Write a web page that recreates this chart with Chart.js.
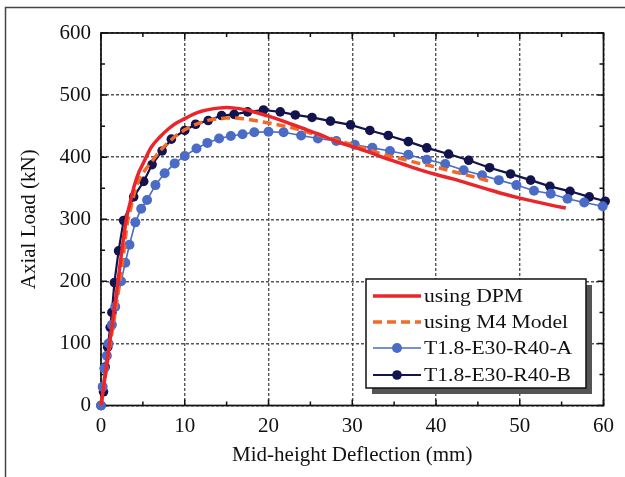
<!DOCTYPE html>
<html>
<head>
<meta charset="utf-8">
<script src="https://cdn.jsdelivr.net/npm/chart.js@4.4.1/dist/chart.umd.min.js"></script>
<style>
  body { margin: 0; background: #fff; }
  canvas { display: block; }
</style>
</head>
<body>
<canvas id="loadChart" width="625" height="477"></canvas>
<script>
// Axial load vs mid-height deflection
var xTicks = [0, 10, 20, 30, 40, 50, 60];
var yTicks = [0, 100, 200, 300, 400, 500, 600];
var seriesNames = ["using DPM", "using M4 Model", "T1.8-E30-R40-A", "T1.8-E30-R40-B"];

var dpmX = [0, 0.5, 1, 1.5, 2, 2.5, 3, 3.5, 4, 4.5, 5, 6, 7, 8, 9, 10, 11, 12, 13, 14, 15, 16, 17, 18, 19, 20, 22, 24, 26, 28, 30, 32, 34, 36, 38, 40, 42, 44, 46, 48, 50, 52, 54, 55.5];
var dpmY = [0, 48, 97, 147, 197, 250, 298, 328, 355, 375, 389, 416, 432, 445, 455, 462, 469, 474, 477, 479, 480, 479, 477, 474, 470, 466, 457, 447, 437, 426, 417, 408, 398, 389, 380, 372, 365, 357, 349, 341, 334, 328, 322, 318];

var m4X = [0, 0.5, 1.1, 1.7, 2.3, 2.8, 3.1, 3.6, 4.0, 4.5, 5.2, 6.0, 6.4, 7.1, 8.0, 9.0, 10, 11, 12, 13, 14, 15, 16, 17, 18, 20, 22, 24, 26, 28, 30, 32, 34, 36, 38, 40, 42, 44, 46.5];
var m4Y = [0, 45, 100, 150, 205, 255, 290, 320, 343, 362, 378, 392, 399, 411, 423, 435, 444, 451, 456, 460, 462, 463, 463, 462, 460, 455, 450, 443, 435, 428, 420, 412, 403, 397, 390, 384, 377, 370, 361];

var testAX = [0, 0.2, 0.4, 0.7, 0.9, 1.3, 1.7, 2.4, 2.9, 3.4, 4.1, 4.8, 5.5, 6.5, 7.6, 8.8, 10.0, 11.4, 12.7, 14.1, 15.5, 16.9, 18.3, 20.0, 21.8, 23.9, 25.9, 28.1, 30.3, 32.4, 34.5, 36.7, 38.9, 41.1, 43.3, 45.5, 47.5, 49.6, 51.7, 53.7, 55.7, 57.7, 59.9];
var testAY = [0, 30, 60, 80, 100, 130, 159, 200, 230, 259, 295, 317, 331, 355, 374, 390, 402, 414, 423, 430, 434, 437, 440, 441, 440, 435, 430, 426, 420, 415, 410, 404, 396, 389, 379, 371, 363, 355, 346, 341, 333, 327, 321];

var testBX = [0, 0.3, 0.5, 0.8, 1.1, 1.3, 1.6, 2.1, 2.7, 3.9, 5.1, 6.1, 7.3, 8.4, 10.0, 11.3, 12.8, 14.4, 15.9, 17.5, 19.4, 21.4, 23.2, 25.2, 27.4, 29.8, 32.1, 34.3, 36.7, 38.9, 41.5, 43.9, 46.4, 48.9, 51.3, 53.6, 56.0, 58.3, 60.2];
var testBY = [0, 22, 62, 94, 126, 150, 198, 249, 298, 336, 361, 388, 410, 429, 443, 453, 459, 467, 469, 473, 476, 473, 468, 464, 458, 452, 443, 435, 425, 415, 405, 395, 383, 373, 363, 353, 345, 336, 329];

var colors = ["#e8262b", "#f26a2a", "#4a6bc6", "#13134d"];

function pts(xs, ys) {
  return xs.map(function (x, i) { return {x: x, y: ys[i]}; });
}

var serif = "'Liberation Serif', 'Times New Roman', serif";

var framePlugin = {
  id: "frame",
  beforeDatasetsDraw: function (chart) {
    var ctx = chart.ctx, a = chart.chartArea;
    var xs = chart.scales.x, ys = chart.scales.y;
    ctx.save();
    ctx.strokeStyle = "#111";
    ctx.lineWidth = 1.7;
    ctx.strokeRect(a.left, a.top, a.right - a.left, a.bottom - a.top);
    ctx.lineWidth = 1.5;
    var v, p, len;
    for (v = 0; v <= 60; v += 5) {
      p = xs.getPixelForValue(v);
      len = v % 10 === 0 ? 6 : 4;
      ctx.beginPath();
      ctx.moveTo(p, a.bottom); ctx.lineTo(p, a.bottom - len);
      ctx.moveTo(p, a.top); ctx.lineTo(p, a.top + len);
      ctx.stroke();
    }
    for (v = 0; v <= 600; v += 50) {
      p = ys.getPixelForValue(v);
      len = v % 100 === 0 ? 6 : 4;
      ctx.beginPath();
      ctx.moveTo(a.left, p); ctx.lineTo(a.left + len, p);
      ctx.moveTo(a.right, p); ctx.lineTo(a.right - len, p);
      ctx.stroke();
    }
    // outer picture border
    ctx.strokeStyle = "#444";
    ctx.lineWidth = 1.5;
    ctx.beginPath();
    ctx.moveTo(5.5, 477); ctx.lineTo(5.5, 7.5); ctx.lineTo(625, 7.5);
    ctx.stroke();
    ctx.restore();
  }
};

var legendPlugin = {
  id: "boxLegend",
  afterDraw: function (chart) {
    var ctx = chart.ctx;
    var bx = 366, by = 279, bw = 220, bh = 109;
    ctx.save();
    ctx.fillStyle = "#555";
    ctx.fillRect(bx + 6, by + 6, bw, bh);
    ctx.fillStyle = "#fff";
    ctx.fillRect(bx, by, bw, bh);
    ctx.strokeStyle = "#111";
    ctx.lineWidth = 1.5;
    ctx.strokeRect(bx, by, bw, bh);
    var rows = [296, 322, 348, 375];
    chart.data.datasets.forEach(function (ds, i) {
      var y = rows[i];
      ctx.strokeStyle = ds.borderColor;
      ctx.lineWidth = ds.borderWidth;
      ctx.setLineDash(ds.borderDash || []);
      ctx.beginPath();
      ctx.moveTo(373, y); ctx.lineTo(421, y);
      ctx.stroke();
      ctx.setLineDash([]);
      if (ds.pointRadius > 0) {
        ctx.fillStyle = ds.pointBackgroundColor;
        ctx.beginPath();
        ctx.arc(397, y, ds.pointRadius, 0, Math.PI * 2);
        ctx.fill();
      }
      ctx.save();
      ctx.translate(424, y);
      ctx.scale(1.2, 1);
      ctx.fillStyle = "#111";
      ctx.font = "18px " + serif;
      ctx.textBaseline = "middle";
      ctx.fillText(ds.label, 0, 1);
      ctx.restore();
    });
    ctx.restore();
  }
};

var ctx = document.getElementById("loadChart").getContext("2d");
new Chart(ctx, {
  type: "scatter",
  data: {
    datasets: [
      {
        label: seriesNames[0],
        data: pts(dpmX, dpmY),
        showLine: true,
        borderColor: colors[0],
        backgroundColor: colors[0],
        borderWidth: 3.5,
        pointRadius: 0,
        cubicInterpolationMode: "monotone",
        clip: false
      },
      {
        label: seriesNames[1],
        data: pts(m4X, m4Y),
        showLine: true,
        borderColor: colors[1],
        backgroundColor: colors[1],
        borderWidth: 3.5,
        borderDash: [9, 5],
        pointRadius: 0,
        cubicInterpolationMode: "monotone",
        clip: false
      },
      {
        label: seriesNames[2],
        data: pts(testAX, testAY),
        showLine: true,
        borderColor: colors[2],
        backgroundColor: colors[2],
        pointBackgroundColor: colors[2],
        pointBorderColor: colors[2],
        borderWidth: 1.6,
        pointRadius: 5,
        pointBorderWidth: 0,
        clip: false
      },
      {
        label: seriesNames[3],
        data: pts(testBX, testBY),
        showLine: true,
        borderColor: colors[3],
        backgroundColor: colors[3],
        pointBackgroundColor: colors[3],
        pointBorderColor: colors[3],
        borderWidth: 2.2,
        pointRadius: 4.8,
        pointBorderWidth: 0,
        clip: false
      }
    ]
  },
  options: {
    responsive: false,
    animation: false,
    events: [],
    layout: { padding: { top: 33, right: 21.5, bottom: 0, left: 0 } },
    plugins: { legend: { display: false }, tooltip: { enabled: false } },
    scales: {
      x: {
        type: "linear",
        min: 0, max: 60,
        afterBuildTicks: function (s) { s.ticks = xTicks.map(function (v) { return {value: v}; }); },
        afterFit: function (s) { s.height = 71.5; },
        ticks: { color: "#111", padding: 8, font: { family: serif, size: 21 } },
        grid: { color: "#555", lineWidth: 1.4, drawTicks: false, borderDash: [3, 2] },
        border: { display: false, dash: [3, 2] },
        title: { display: true, text: "Mid-height Deflection (mm)", color: "#111", font: { family: serif, size: 21 }, padding: { top: 0, bottom: 9 } }
      },
      y: {
        type: "linear",
        min: 0, max: 600,
        afterBuildTicks: function (s) { s.ticks = yTicks.map(function (v) { return {value: v}; }); },
        afterFit: function (s) { s.width = 101; },
        ticks: { color: "#111", padding: 10, font: { family: serif, size: 21 } },
        grid: { color: "#555", lineWidth: 1.4, drawTicks: false, borderDash: [3, 2] },
        border: { display: false, dash: [3, 2] },
        title: { display: true, text: "Axial Load (kN)", color: "#111", font: { family: serif, size: 21 }, padding: { top: 17, bottom: 0 } }
      }
    }
  },
  plugins: [framePlugin, legendPlugin]
});
</script>
</body>
</html>
